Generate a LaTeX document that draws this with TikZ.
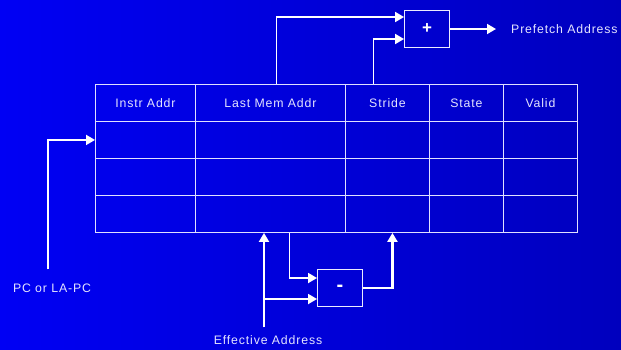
\documentclass[tikz,border=0pt]{standalone}
\usepackage{fontspec}
\usepackage{tikz}
\usetikzlibrary{arrows.meta,positioning,calc}
\newfontfamily\slidefont[LetterSpace=7]{Liberation Sans}
\definecolor{slideLeft}{HTML}{0000F4}
\definecolor{slideRight}{HTML}{0000BE}
\definecolor{slideInk}{HTML}{E4E4FF}
\tikzset{
  hcell/.style={draw=white!88!blue,line width=.9pt,inner sep=0pt,minimum height=37pt,
    anchor=north west,font=\slidefont\fontsize{12.3}{14}\selectfont,text=slideInk},
  cell/.style={hcell},
  opbox/.style={draw=white!92!blue,line width=.9pt,minimum width=45pt,minimum height=37pt,
    inner sep=0pt,text=white},
  flow/.style={-{Triangle[length=9pt,width=10pt]},line width=1.8pt,white},
  tag/.style={font=\slidefont\fontsize{12.3}{14}\selectfont,text=slideInk,inner sep=0pt}
}

\begin{document}
\begin{tikzpicture}[x=1pt,y=-1pt]
  \shade[left color=slideLeft,right color=slideRight] (0,0) rectangle (621,349);
  \useasboundingbox (0,0) rectangle (621,349);

  % stride table: header row and three entries
  \foreach \col/\xl/\w/\txt in {instr/95/100/Instr Addr,last/195/150/Last Mem Addr,
      stride/345/84/Stride,state/429/74/State,valid/503/74/Valid}{
    \node[hcell,minimum width=\w pt] (\col-0) at (\xl,84) {\txt};
    \foreach \r in {1,2,3}
      \node[cell,minimum width=\w pt] (\col-\r) at (\xl,{84+37*\r}) {};
  }

  \node[opbox,font=\slidefont\fontsize{17}{17}\selectfont\bfseries] (plus) at (427,29) {+};
  \node[opbox,font=\slidefont\fontsize{20}{20}\selectfont\bfseries] (minus) at (340,288) {-};

  \node[tag,anchor=west] (pfa) at (511,29) {Prefetch Address};
  \node[tag] (pc) at (52,288) {PC or LA-PC};
  \node[tag] (ea) at (268,340) {Effective Address};

  \draw[flow] ([xshift=6pt]last-0.north) |- ([yshift=12pt]plus.west);
  \draw[flow] ([xshift=-14pt]stride-0.north) |- ([yshift=-10pt]plus.west);
  \draw[flow,shorten >=15pt] (plus.east) -- (pfa.west);

  \draw[flow] ([xshift=-4pt,yshift=14pt]pc.north) |- (instr-1.west);

  \coordinate (eaFoot) at ([xshift=-4pt,yshift=8pt]ea.north);
  \coordinate (subIn) at ([yshift=-11pt]minus.west);
  \draw[flow] (eaFoot) -- (eaFoot |- last-3.south);
  \draw[flow] (eaFoot |- subIn) -- (subIn);
  \draw[flow] ([xshift=19pt]last-3.south) |- ([yshift=10pt]minus.west);
  \draw[flow,line width=2.6pt] (minus.east) -| ([xshift=5pt]stride-3.south);
\end{tikzpicture}
\end{document}
